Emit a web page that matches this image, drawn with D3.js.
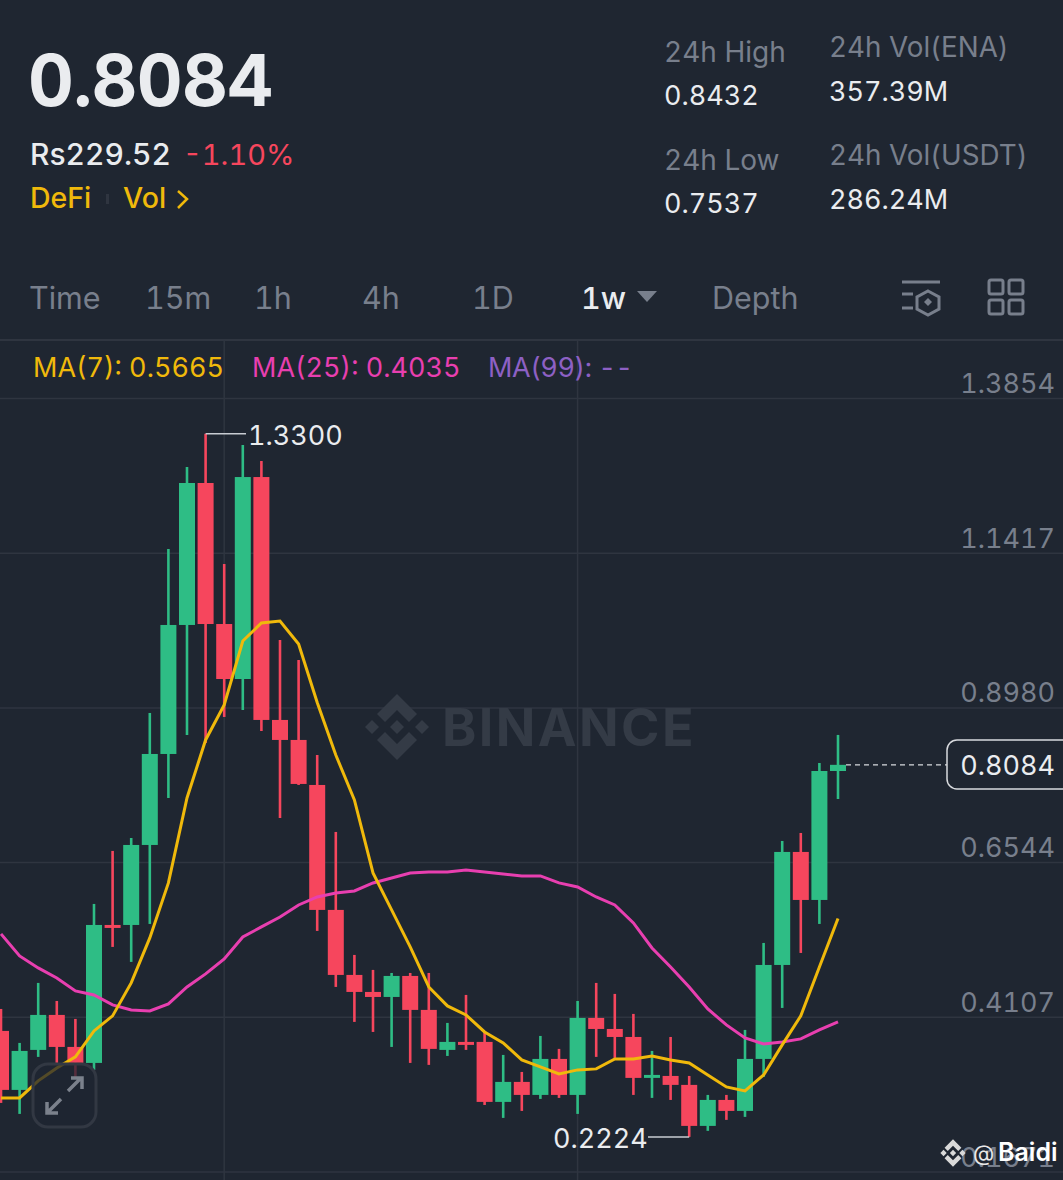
<!DOCTYPE html>
<html>
<head>
<meta charset="utf-8">
<script src="https://cdn.jsdelivr.net/npm/d3@7"></script>
<style>
  html, body { margin: 0; padding: 0; background: #1f2631; }
  svg { display: block; font-family: Inter, "Noto Sans", sans-serif; font-variant-numeric: tabular-nums; }
</style>
</head>
<body>
<script>
// weekly candles
const open = [.3893,.2964,.3594,.4145,.3641,.3389,.5562,.5562,.6822,.8255,1.0287,1.2523,1.0302,.9436,1.2617,.8791,.8476,.7767,.5799,.4775,.4507,.4428,.4759,.4224,.3594,.3720,.3720,.2775,.3090,.2885,.3452,.2885,.4098,.3924,.3798,.3153,.3184,.3043,.2397,.2806,.2633,.3452,.4932,.6712,.5956,.7987]
const high = [.4239,.3704,.4649,.4365,.4082,.5893,.6728,.6932,.8901,1.1484,1.2775,1.3300,1.1247,1.3121,1.2869,1.0050,.9735,.8239,.7027,.5090,.4854,.4806,.4806,.4806,.4019,.4460,.3877,.3515,.3247,.3814,.3610,.4365,.4649,.4476,.4161,.3578,.3798,.3184,.2885,.2885,.3909,.5279,.6885,.7011,.8113,.8555]
const low = [.2759,.2586,.3484,.3389,.3169,.3279,.5216,.4980,.5578,.7562,.8555,.8428,.8838,.8948,.8617,.7247,.7767,.5468,.4586,.4035,.3877,.3641,.3389,.3358,.3499,.3594,.2727,.2523,.2633,.2822,.2838,.2586,.3484,.3468,.2885,.2838,.2806,.2224,.2319,.2492,.2539,.3169,.4255,.5121,.5578,.7546]
const close = [.2964,.3578,.4145,.3641,.3389,.5562,.5515,.6822,.8255,1.0287,1.2523,1.0302,.9436,1.2617,.8791,.8476,.7783,.5799,.4775,.4507,.4428,.4759,.4224,.3610,.3720,.3673,.2775,.3090,.2885,.3452,.2885,.4098,.3924,.3798,.3153,.3200,.3043,.2397,.2806,.2633,.3452,.4932,.6712,.5956,.7987,.8084]
const ma7 = [.2838,.2838,.3106,.3310,.3484,.3893,.4130,.4649,.5358,.6224,.7562,.8476,.9027,1.0035,1.0318,1.0350,.9987,.9065,.8239,.7531,.6381,.5799,.5216,.4586,.4287,.4145,.3877,.3704,.3436,.3326,.3216,.3279,.3295,.3452,.3452,.3499,.3436,.3389,.3200,.3011,.2948,.3200,.3673,.4130,.4901,.5665]
const ma25 = [.5420,.5074,.4885,.4728,.4523,.4460,.4303,.4224,.4208,.4318,.4586,.4791,.5027,.5373,.5531,.5688,.5877,.6003,.6066,.6098,.6224,.6302,.6381,.6397,.6397,.6428,.6397,.6365,.6334,.6334,.6224,.6161,.6003,.5877,.5594,.5200,.4901,.4586,.4239,.3988,.3783,.3688,.3720,.3767,.3909,.4035]
const priceTicks = [1.3854, 1.1417, 0.8980, 0.6544, 0.4107, 0.1671]
const intervals = ["Time", "15m", "1h", "4h", "1D", "1w", "Depth"]
const intervalX = [29, 145, 254, 362, 472, 581, 712]

const GREEN = "#2ebd85", RED = "#f6465d", YELLOW = "#f0b90b", PINK = "#e83fb0", PURPLE = "#8d60c4"
const GREY = "#787f8c", GRID = "#2f3540", WHITE = "#eaecef"

const width = 1063, height = 1180

const svg = d3.select("body").append("svg")
  .attr("width", width)
  .attr("height", height)
  .attr("viewBox", [0, 0, width, height])

svg.append("rect").attr("width", width).attr("height", height).attr("fill", "#1f2631")

const x = d3.scaleLinear().domain([0, open.length - 1]).range([1, 838])
const y = d3.scaleLinear().domain([priceTicks[0], priceTicks[5]]).range([398.5, 1172])

const label = (txt, px, py, size, fill, weight) => svg.append("text")
  .attr("x", px).attr("y", py)
  .attr("font-size", size)
  .attr("font-weight", weight || 400)
  .attr("fill", fill)
  .text(txt)

// header
label("0.8084", 28, 106, 71, WHITE, 700).attr("letter-spacing", -0.7)
label("Rs229.52", 30, 165, 30, WHITE, 500)
label("-1.10%", 183, 165, 29, RED, 400)
label("DeFi", 30, 208, 28.5, YELLOW, 500)
svg.append("rect").attr("x", 106).attr("y", 194).attr("width", 3).attr("height", 10).attr("fill", GRID)
label("Vol", 123, 208, 28.5, YELLOW, 500)
svg.append("path").attr("d", "M178 191L187 199L178 208").attr("fill", "none").attr("stroke", YELLOW).attr("stroke-width", 2.5)

label("24h High", 664, 62, 28, GREY)
label("0.8432", 664, 105, 27, WHITE)
label("24h Low", 664, 170, 28, GREY)
label("0.7537", 664, 213, 27, WHITE)
label("24h Vol(ENA)", 829, 57, 27.8, GREY)
label("357.39M", 829, 101, 27, WHITE)
label("24h Vol(USDT)", 829, 165, 27.8, GREY)
label("286.24M", 829, 209, 27, WHITE)

// toolbar
intervals.forEach((t, i) => {
  label(t, intervalX[i], 309, 30.5, t == "1w" ? WHITE : GREY, t == "1w" ? 500 : 400)
})
svg.append("path").attr("d", "M637 291L657 291L647 302Z").attr("fill", GREY)

const icons = svg.append("g").attr("fill", "none").attr("stroke", GREY).attr("stroke-width", 3)
icons.append("path").attr("d", "M902 282H940M902 294H913M902 308H913")
icons.append("path").attr("d", "M928 291L939 297V309L928 315L917 309V297Z")
icons.append("path").attr("d", "M928 298L932 302L928 306L924 302Z").attr("fill", GREY).attr("stroke", "none")
for (const rx of [989, 1009]) {
  for (const ry of [280, 300]) {
    icons.append("rect").attr("x", rx).attr("y", ry).attr("width", 14).attr("height", 14).attr("rx", 2)
  }
}
svg.append("line").attr("x1", 0).attr("x2", width).attr("y1", 340).attr("y2", 340).attr("stroke", GRID).attr("stroke-width", 2)

// grid
svg.append("g").selectAll("line").data(priceTicks).enter().append("line")
  .attr("x1", 0).attr("x2", width)
  .attr("y1", d => y(d)).attr("y2", d => y(d))
  .attr("stroke", GRID).attr("stroke-width", 1.5)
svg.append("g").selectAll("line").data([12, 31]).enter().append("line")
  .attr("x1", d => x(d)).attr("x2", d => x(d))
  .attr("y1", 340).attr("y2", height)
  .attr("stroke", GRID).attr("stroke-width", 1.5)

// watermark
const wm = svg.append("g").attr("transform", "translate(397,727)").attr("fill", "#343b46")
wm.selectAll("path").data([
  "M0 -7L7 0L0 7L-7 0Z", "M-25 -7L-18 0L-25 7L-32 0Z", "M25 -7L32 0L25 7L18 0Z",
  "M0 -33L20 -13L12 -5L0 -17L-12 -5L-20 -13Z", "M0 33L20 13L12 5L0 17L-12 5L-20 13Z"
]).enter().append("path").attr("d", d => d)
wm.append("text").attr("x", 45).attr("y", 19).attr("font-size", 52).attr("font-weight", 700).attr("letter-spacing", 2.4).text("BINANCE")

// legend
label("MA(7): 0.5665", 33, 377, 27, YELLOW)
label("MA(25): 0.4035", 252, 377, 27, PINK)
label("MA(99): --", 488, 377, 27, PURPLE).attr("letter-spacing", -0.4)

// price axis, labels sit just above their grid lines
const axis = svg.append("g").attr("transform", "translate(1055,0)")
  .call(d3.axisLeft(y).tickValues(priceTicks).tickFormat(d3.format(".4f")).tickSize(0).tickPadding(0))
axis.select(".domain").remove()
axis.selectAll("text")
  .attr("font-family", "Inter, sans-serif")
  .attr("font-size", 27)
  .attr("fill", GREY)
  .attr("dy", -6)

// candles
const colorOf = i => close[i] >= open[i] ? GREEN : RED
const candles = svg.append("g").selectAll("g").data(d3.range(open.length)).enter().append("g")
candles.append("line")
  .attr("x1", d => x(d)).attr("x2", d => x(d))
  .attr("y1", d => y(high[d])).attr("y2", d => y(low[d]))
  .attr("stroke", colorOf).attr("stroke-width", 2.6)
candles.append("rect")
  .attr("x", d => x(d) - 8)
  .attr("width", 16)
  .attr("y", d => y(Math.max(open[d], close[d])))
  .attr("height", d => Math.max(2, Math.abs(y(open[d]) - y(close[d]))))
  .attr("fill", colorOf)

// moving averages
const line = d3.line().x((d, i) => x(i)).y(d => y(d))
svg.append("path").attr("d", line(ma25)).attr("fill", "none").attr("stroke", PINK).attr("stroke-width", 3)
svg.append("path").attr("d", line(ma7)).attr("fill", "none").attr("stroke", YELLOW).attr("stroke-width", 3)

// high / low markers
const hiI = high.indexOf(d3.max(high)), loI = low.indexOf(d3.min(low))
svg.append("line").attr("x1", x(hiI)).attr("x2", 246).attr("y1", y(high[hiI])).attr("y2", y(high[hiI])).attr("stroke", "#c8ccd2").attr("stroke-width", 1.5)
label(d3.format(".4f")(high[hiI]), 248, y(high[hiI]) + 11, 27, WHITE)
svg.append("line").attr("x1", 648).attr("x2", x(loI)).attr("y1", y(low[loI])).attr("y2", y(low[loI])).attr("stroke", "#c8ccd2").attr("stroke-width", 1.5)
label(d3.format(".4f")(low[loI]), 553, y(low[loI]) + 11, 27, WHITE)

// last price
const last = close[close.length - 1]
svg.append("line").attr("x1", x(45) + 8).attr("x2", 947).attr("y1", y(last)).attr("y2", y(last))
  .attr("stroke", "#d8dade").attr("stroke-width", 1.2).attr("stroke-dasharray", "5 4")
svg.append("rect").attr("x", 947).attr("y", 740).attr("width", 130).attr("height", 49).attr("rx", 10)
  .attr("fill", "#1f2631").attr("stroke", "#d8dade").attr("stroke-width", 1.5)
svg.append("text").attr("x", 1055).attr("y", 775).attr("text-anchor", "end").attr("font-size", 27).attr("fill", WHITE).text(d3.format(".4f")(last))

// expand button
svg.append("rect").attr("x", 33).attr("y", 1064).attr("width", 63).attr("height", 63).attr("rx", 15)
  .attr("fill", "#1f2631").attr("fill-opacity", .75).attr("stroke", "#323843").attr("stroke-width", 3)
svg.append("path").attr("d", "M68 1091L81 1078M71 1078H82V1089M61 1099L48 1112M47 1102V1113H58")
  .attr("fill", "none").attr("stroke", "#7b818c").attr("stroke-width", 3.5)

// page watermark bottom right
const bw = svg.append("g").attr("transform", "translate(953,1153) scale(1.05)").attr("fill", "#d9d9d9")
bw.selectAll("path").data([
  "M0 -3L3 0L0 3L-3 0Z", "M-9 -3L-6 0L-9 3L-12 0Z", "M9 -3L12 0L9 3L6 0Z",
  "M0 -13L8 -5L5 -2L0 -7L-5 -2L-8 -5Z", "M0 13L8 5L5 2L0 7L-5 2L-8 5Z"
]).enter().append("path").attr("d", d => d)
label("@", 973, 1161, 22, "#e8e8e8")
label("Baidi", 998, 1161, 25, "#ffffff", 600)
</script>
</body>
</html>
